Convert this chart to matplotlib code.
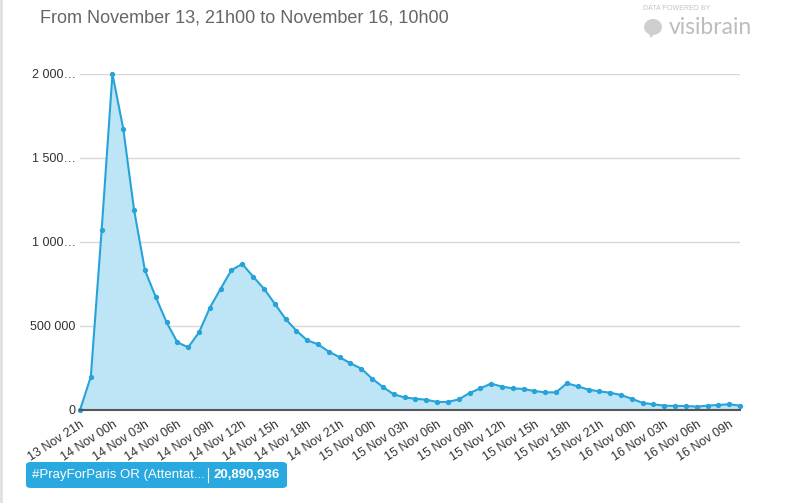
import matplotlib
matplotlib.use("Agg")
import matplotlib.pyplot as plt
from matplotlib.patches import FancyBboxPatch, Ellipse, Polygon

# hourly volume, 13 Nov 21h -> 16 Nov 10h
hours = list(range(62))
volumes = [
    0, 198000, 1071000, 2000000, 1673000, 1190000, 832000, 673000, 522000, 403000,
    373000, 462000, 609000, 722000, 833000, 869000, 794000, 722000, 633000, 542000,
    472000, 415000, 391000, 347000, 314000, 278000, 246000, 187000, 137000, 93000,
    75000, 67000, 61000, 48000, 48000, 63000, 101000, 129000, 157000, 139000,
    129000, 125000, 113000, 105000, 105000, 159000, 141000, 121000, 111000, 103000,
    89000, 67000, 42000, 34000, 26000, 24000, 24000, 20000, 26000, 30000,
    34000, 26000,
]
tick_pos = list(range(0, 61, 3))
tick_labels = [
    "13 Nov 21h", "14 Nov 00h", "14 Nov 03h", "14 Nov 06h", "14 Nov 09h",
    "14 Nov 12h", "14 Nov 15h", "14 Nov 18h", "14 Nov 21h", "15 Nov 00h",
    "15 Nov 03h", "15 Nov 06h", "15 Nov 09h", "15 Nov 12h", "15 Nov 15h",
    "15 Nov 18h", "15 Nov 21h", "16 Nov 00h", "16 Nov 03h", "16 Nov 06h",
    "16 Nov 09h",
]
ytick_pos = [0, 500000, 1000000, 1500000, 2000000]
ytick_labels = ["0", "500 000", "1 000…", "1 500…", "2 000…"]
series_name = "#PrayForParis OR (Attentat..."
total = "20,890,936"

plt.rcParams["font.family"] = ["Liberation Sans", "DejaVu Sans"]

line_col = "#27a3d9"
fill_col = "#bde5f5"

fig = plt.figure(figsize=(8, 5.03), dpi=100)
ax = fig.add_axes([0.1, 1 - 410 / 503, 0.825, (410 - 74) / 503])

ax.fill_between(hours, volumes, 0, color=fill_col, lw=0)
ax.plot(hours, volumes, color=line_col, lw=1.5, marker="o", ms=2.8, clip_on=False, zorder=3)

ax.set_xlim(0, 61)
ax.set_ylim(0, 2000000)
ax.set_yticks(ytick_pos)
ax.set_yticklabels(ytick_labels, fontsize=9, color="#333333")
ax.set_xticks(tick_pos)
ax.set_xticklabels(tick_labels, rotation=33, ha="right", rotation_mode="anchor",
                   fontsize=9, color="#333333")
ax.tick_params(axis="both", length=0, pad=3)
ax.tick_params(axis="x", pad=6)
ax.grid(axis="y", color="#d8d8d8", lw=1)
ax.set_axisbelow(True)
for s in ["top", "right", "left"]:
    ax.spines[s].set_visible(False)
ax.spines["bottom"].set_color("#555555")
ax.spines["bottom"].set_linewidth(1.5)
ax.spines["bottom"].set_zorder(4)

# title
fig.text(40 / 800, 1 - 18 / 503, "From November 13, 21h00 to November 16, 10h00",
         fontsize=13, color="#666666", va="center", ha="left")

# visibrain logo
fig.text(643 / 800, 1 - 8 / 503, "DATA POWERED BY", fontsize=5, color="#c4c4c4",
         va="center", ha="left")
fig.text(669 / 800, 1 - 27 / 503, "visibrain", fontsize=16.5, color="#bdbdbd",
         va="center", ha="left", family=["Lato", "DejaVu Sans"])
fig.patches.append(Ellipse((653 / 800, 1 - 27 / 503), 18 / 800, 16 / 503,
                           transform=fig.transFigure, facecolor="#cfcfcf",
                           edgecolor="none"))
fig.patches.append(Polygon([(648 / 800, 1 - 32 / 503), (655 / 800, 1 - 33 / 503),
                            (651 / 800, 1 - 38 / 503)], closed=True,
                           transform=fig.transFigure, facecolor="#cfcfcf",
                           edgecolor="none"))

# legend badge
badge = FancyBboxPatch((26 / 800, 1 - 488 / 503), 261 / 800, 26 / 503,
                       boxstyle="round,pad=0,rounding_size=0.006",
                       transform=fig.transFigure, facecolor="#29a9df", edgecolor="none")
fig.patches.append(badge)
fig.text(32 / 800, 1 - 475 / 503, series_name, fontsize=9.5, color="white",
         va="center", ha="left")
fig.lines.append(plt.Line2D([208 / 800, 208 / 800], [1 - 482 / 503, 1 - 468 / 503],
                            transform=fig.transFigure, color="white", lw=0.8))
fig.text(280 / 800, 1 - 475 / 503, total, fontsize=9.5, color="white",
         va="center", ha="right", weight="bold")

# left page border
fig.lines.append(plt.Line2D([0.001, 0.001], [0, 1], transform=fig.transFigure,
                            color="#e0e0e0", lw=2))

fig.savefig("out.png", dpi=100)
